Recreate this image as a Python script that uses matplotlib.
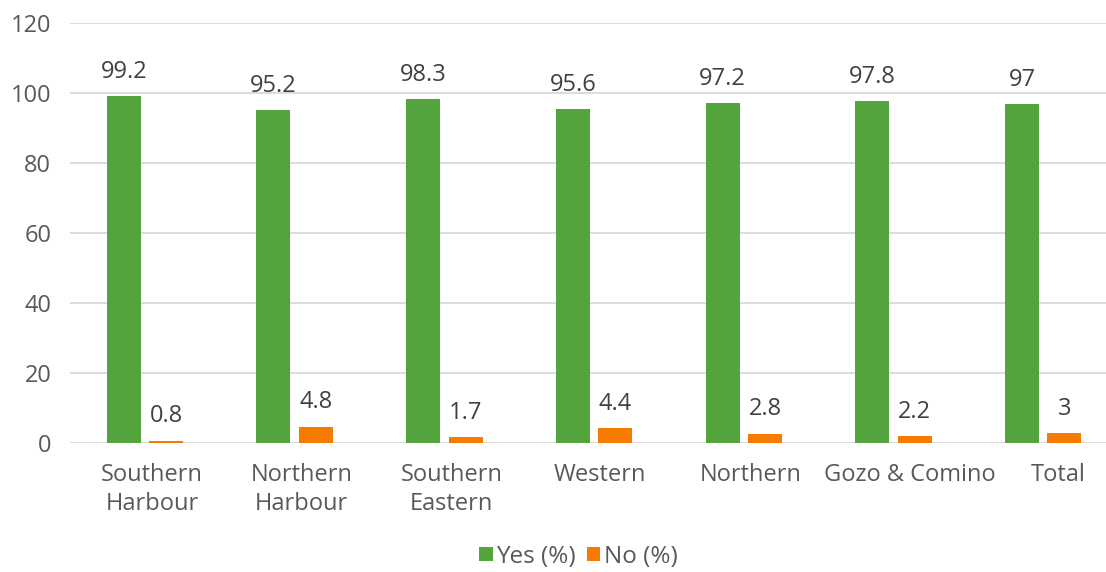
import matplotlib.pyplot as plt
import matplotlib.transforms as mtransforms
import numpy as np

regions = ["Southern\nHarbour", "Northern\nHarbour", "Southern\nEastern", "Western",
           "Northern", "Gozo & Comino", "Total"]
yes_pct = [99.2, 95.2, 98.3, 95.6, 97.2, 97.8, 97]
no_pct = [0.8, 4.8, 1.7, 4.4, 2.8, 2.2, 3]

plt.rcParams['font.family'] = ['Open Sans', 'DejaVu Sans']
txt = '#595959'
lbl = '#404040'
green = '#54a43d'
orange = '#f67b00'

fig = plt.figure(figsize=(11.06, 5.72), dpi=100)
# plot area runs a little past the right edge, as in the source
ax = fig.add_axes([0.0634, 0.225, 0.9475, 0.734])

x = np.arange(len(regions))
w = 0.227
b1 = ax.bar(x - 0.142, yes_pct, w, color=green, label='Yes (%)', zorder=3)
b2 = ax.bar(x + 0.142, no_pct, w, color=orange, label='No (%)', zorder=3)

for bars, vals in ((b1, yes_pct), (b2, no_pct)):
    for r, v in zip(bars, vals):
        ax.annotate(f'{v:g}', (r.get_x() + r.get_width() / 2, v), xytext=(0, 13),
                    textcoords='offset points', ha='center', va='baseline',
                    fontsize=17, color=lbl)

ax.set_ylim(0, 120)
ax.set_yticks(range(0, 121, 20))
ax.set_xlim(-0.5, len(regions) - 0.5)
ax.set_xticks(x)
ax.set_xticklabels(regions, linespacing=1.3)
ax.tick_params(axis='both', length=0, labelsize=17, colors=txt)
ax.tick_params(axis='y', pad=13.5)
ax.tick_params(axis='x', pad=14)
# nudge category labels right like Excel does (px)
nudge = [7, 7, 7, 6, 7, 16, 15]
for t, dx in zip(ax.get_xticklabels(), nudge):
    shift = mtransforms.ScaledTranslation(dx / 100, 0, fig.dpi_scale_trans)
    t.set_transform(t.get_transform() + shift)
ax.grid(axis='y', color='#d9d9d9', linewidth=1.3, zorder=0)
for s in ax.spines.values():
    s.set_visible(False)

fig.legend(handles=[b1, b2], loc='center', bbox_to_anchor=(0.523, 0.027),
           ncol=2, frameon=False, fontsize=17.5, handlelength=0.55, handleheight=0.55,
           handletextpad=0.15, columnspacing=0.45, labelcolor=txt)

fig.savefig('out.png', dpi=100)
